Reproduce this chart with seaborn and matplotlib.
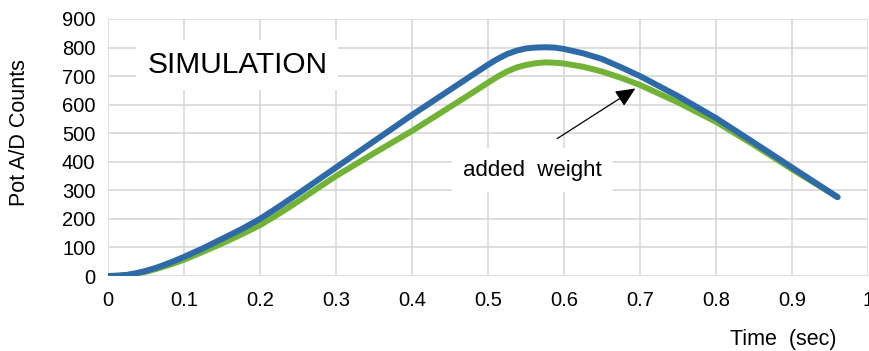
import matplotlib
matplotlib.use("Agg")
import matplotlib.pyplot as plt
import numpy as np
import pandas as pd
import seaborn as sns

# values
time_sec = [0, 0.0125, 0.025, 0.0375, 0.05, 0.0625, 0.075, 0.0875, 0.1, 0.125, 0.15,
            0.175, 0.2, 0.225, 0.25, 0.275, 0.3, 0.35, 0.4, 0.45, 0.475, 0.5, 0.5125,
            0.525, 0.5375, 0.55, 0.5625, 0.575, 0.5875, 0.6, 0.625, 0.65, 0.675, 0.7,
            0.75, 0.8, 0.85, 0.9, 0.96]
baseline_counts = [0, 1, 4, 10, 18, 28, 40, 53, 67, 97, 130,
                   163, 200, 243, 288, 334, 380, 472, 564, 652, 696, 740, 760,
                   777, 789, 797, 800, 801, 800, 795, 780, 760, 731, 700,
                   630, 553, 467, 380, 276]
weighted_counts = [0, 1, 3, 8, 15, 24, 34, 45, 57, 85, 114,
                   145, 178, 218, 261, 306, 350, 430, 508, 592, 634, 677, 698,
                   716, 730, 739, 745, 748, 747, 744, 733, 716, 694, 669,
                   608, 540, 459, 374, 276]

x_ticks = [round(0.1 * i, 1) for i in range(11)]
x_tick_labels = ["0", "0.1", "0.2", "0.3", "0.4", "0.5", "0.6", "0.7", "0.8", "0.9", "1"]
y_ticks = list(range(0, 1000, 100))

df = pd.DataFrame({
    "t": time_sec * 2,
    "counts": baseline_counts + weighted_counts,
    "run": ["baseline"] * len(time_sec) + ["added weight"] * len(time_sec),
})

sns.set_theme(style="whitegrid")
plt.rcParams["font.family"] = ["Liberation Sans", "DejaVu Sans"]
plt.rcParams["text.color"] = "black"

fig = plt.figure(figsize=(8.69, 3.51), dpi=100)
ax = fig.add_axes([108 / 869, 75 / 351, 760 / 869, 257 / 351])

sns.lineplot(data=df, x="t", y="counts", hue="run",
             hue_order=["added weight", "baseline"],
             palette={"added weight": "#72b336", "baseline": "#2f6aa8"},
             linewidth=4.3, legend=False, ax=ax)

ax.set_xlim(0, 1)
ax.set_ylim(0, 900)
ax.set_xticks(x_ticks)
ax.set_xticklabels(x_tick_labels)
ax.set_yticks(y_ticks)
ax.tick_params(axis="both", labelsize=14.5, colors="black", length=0)
ax.tick_params(axis="x", pad=11)
ax.tick_params(axis="y", pad=9)
ax.grid(True, color="#d4d4d4", linewidth=1.1)
for s in ax.spines.values():
    s.set_visible(False)
ax.set_xlabel("")
ax.set_ylabel("")

fig.text(20 / 869, 218 / 351, "Pot A/D Counts", rotation=90, ha="center", va="center",
         fontsize=15.5)
fig.text(783 / 869, 12 / 351, "Time  (sec)", ha="center", va="center", fontsize=15.5)

ax.text(0.17, 739, "SIMULATION", ha="center", va="center", fontsize=21.5,
        bbox=dict(facecolor="white", edgecolor="none", pad=8))
ax.text(0.558, 371, "added  weight", ha="center", va="center", fontsize=16,
        bbox=dict(facecolor="white", edgecolor="none", pad=8))
ax.annotate("", xy=(0.697, 662), xytext=(0.588, 476),
            arrowprops=dict(arrowstyle="-|>,head_length=1.0,head_width=0.45",
                            color="black", linewidth=0.9))

fig.savefig("out.png", dpi=100)
